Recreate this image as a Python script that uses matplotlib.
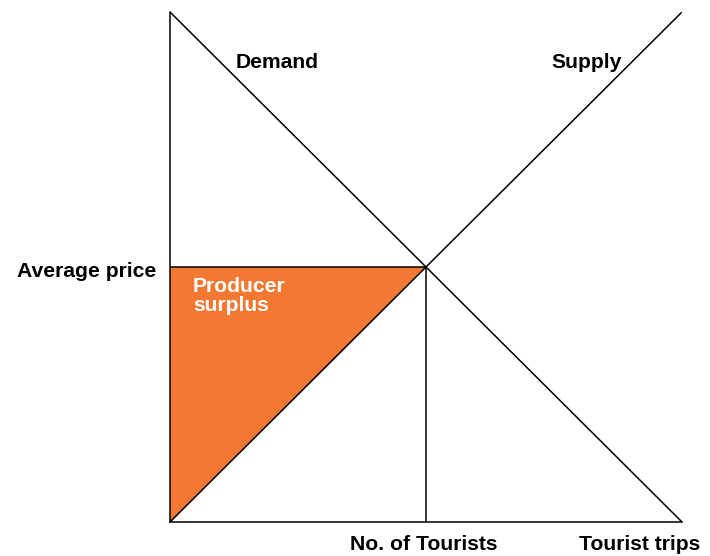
import matplotlib
matplotlib.use("Agg")
import matplotlib.pyplot as plt

# Data
demand_x = [0, 10]
demand_y = [10, 0]
supply_x = [0, 10]
supply_y = [0, 10]
eq_x = 5
eq_y = 5
surplus_x = [0, eq_x, 0]
surplus_y = [eq_y, eq_y, 0]

plt.rcParams['font.family'] = ['Liberation Sans', 'DejaVu Sans']

W, H = 710, 556
fig = plt.figure(figsize=(W/100, H/100), dpi=100)
ax = fig.add_axes([170/W, (H-522)/H, (682-170)/W, (522-12)/H])
ax.set_xlim(0, 10)
ax.set_ylim(0, 10)

ax.fill(surplus_x, surplus_y, color='#F37832', zorder=1, lw=0)
ax.plot(demand_x, demand_y, color='black', lw=1.1, zorder=2)
ax.plot(supply_x, supply_y, color='black', lw=1.1, zorder=2)
ax.plot([0, eq_x], [eq_y, eq_y], color='black', lw=1.1, zorder=2)
ax.plot([eq_x, eq_x], [eq_y, 0], color='black', lw=1.1, zorder=2)

for s in ['top', 'right']:
    ax.spines[s].set_visible(False)
for s in ['left', 'bottom']:
    ax.spines[s].set_linewidth(1.1)
ax.set_xticks([])
ax.set_yticks([])
ax.patch.set_alpha(0)

fs = 15.2
fig.text(277/W, 1-62/H, 'Demand', ha='center', va='center', fontsize=fs, fontweight='bold')
fig.text(587/W, 1-62/H, 'Supply', ha='center', va='center', fontsize=fs, fontweight='bold')
fig.text(156/W, 1-271/H, 'Average price', ha='right', va='center', fontsize=fs, fontweight='bold')
fig.text(193/W, 1-296/H, 'Producer\nsurplus', ha='left', va='center', fontsize=fs, fontweight='bold',
         color='white', linespacing=1.04)
fig.text(424/W, 1-545/H, 'No. of Tourists', ha='center', va='center', fontsize=fs, fontweight='bold')
fig.text(640/W, 1-545/H, 'Tourist trips', ha='center', va='center', fontsize=fs, fontweight='bold')

fig.savefig('out.png', dpi=100)
